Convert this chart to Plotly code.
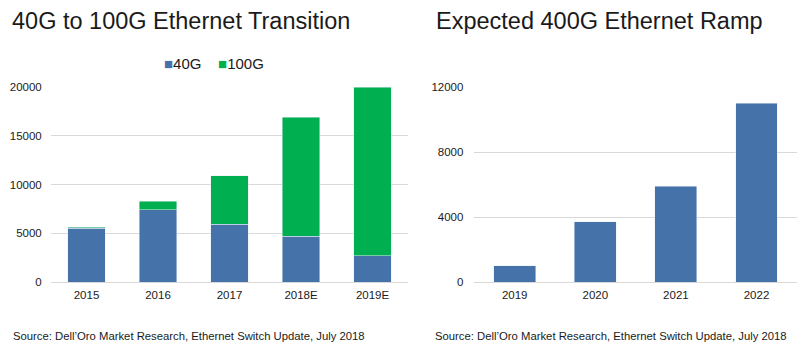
import plotly.graph_objects as go

# Left panel: 40G / 100G port shipments (stacked)
years_a = ["2015", "2016", "2017", "2018E", "2019E"]
ports_40g = [5500, 7400, 5900, 4700, 2700]
ports_100g = [100, 900, 5000, 12200, 17300]
ticks_a = [0, 5000, 10000, 15000, 20000]

# Right panel: 400G ramp
years_b = ["2019", "2020", "2021", "2022"]
ports_400g = [1000, 3700, 5900, 11000]
ticks_b = [0, 4000, 8000, 12000]

BLUE = "#4672AA"
GREEN = "#00B050"
GRID = "#D9D9D9"
FONT = "Liberation Sans, Arial, sans-serif"
TXT = "#1a1a1a"

fig = go.Figure()
fig.add_trace(go.Bar(x=years_a, y=ports_40g, name="40G", marker_color=BLUE,
                     xaxis="x", yaxis="y", showlegend=False))
fig.add_trace(go.Bar(x=years_a, y=ports_100g, name="100G", marker_color=GREEN,
                     xaxis="x", yaxis="y", showlegend=False))
fig.add_trace(go.Bar(x=years_b, y=ports_400g, name="400G", marker_color=BLUE,
                     xaxis="x2", yaxis="y2", showlegend=False))

W, H = 806, 344
def px(xp):
    return xp / W
def py(yp):
    return (H - yp) / H

axis_common = dict(showline=False, ticks="", automargin=False,
                   tickfont=dict(size=11.5, color=TXT, family=FONT))
ydom = [py(282), py(87)]

fig.update_layout(
    width=W, height=H,
    margin=dict(l=0, r=0, t=0, b=0),
    paper_bgcolor="white", plot_bgcolor="white",
    barmode="stack", bargap=0.48,
    font=dict(family=FONT, color=TXT),
    xaxis=dict(domain=[px(50.75), px(408.25)], anchor="y", showgrid=False,
               zeroline=False, ticklabelstandoff=4, **axis_common),
    yaxis=dict(domain=ydom, anchor="x", range=[0, 20000], tickvals=ticks_a,
               tickformat="d",
               showgrid=True, gridcolor=GRID, gridwidth=1, zeroline=True,
               zerolinecolor=GRID, zerolinewidth=1, ticklabelstandoff=8,
               **axis_common),
    xaxis2=dict(domain=[px(474.4), px(796.8)], anchor="y2", showgrid=False,
                zeroline=False, ticklabelstandoff=4, **axis_common),
    yaxis2=dict(domain=ydom, anchor="x2", range=[0, 12000], tickvals=ticks_b,
                tickformat="d",
                showgrid=True, gridcolor=GRID, gridwidth=1, zeroline=True,
                zerolinecolor=GRID, zerolinewidth=1, ticklabelstandoff=10,
                **axis_common),
)

annotations = [
    dict(text="40G to 100G Ethernet Transition", x=px(10), y=py(21),
         xanchor="left", yanchor="middle", font=dict(size=23.5, color=TXT)),
    dict(text="Expected 400G Ethernet Ramp", x=px(434), y=py(21),
         xanchor="left", yanchor="middle", font=dict(size=23.5, color=TXT)),
    dict(text=(f'<span style="color:{BLUE}">■</span>40G&nbsp;&nbsp;&nbsp;&nbsp;'
               f'<span style="color:{GREEN}">■</span>100G'),
         x=px(214), y=py(63), xanchor="center", yanchor="middle",
         font=dict(size=15, color=TXT)),
    dict(text="Source: Dell’Oro Market Research, Ethernet Switch Update, July 2018",
         x=px(11), y=py(336), xanchor="left", yanchor="middle",
         font=dict(size=11.3, color=TXT)),
    dict(text="Source: Dell’Oro Market Research, Ethernet Switch Update, July 2018",
         x=px(433), y=py(336), xanchor="left", yanchor="middle",
         font=dict(size=11.3, color=TXT)),
]
for a in annotations:
    a.update(xref="paper", yref="paper", showarrow=False)
fig.update_layout(annotations=annotations)

fig.write_html("out.html")
